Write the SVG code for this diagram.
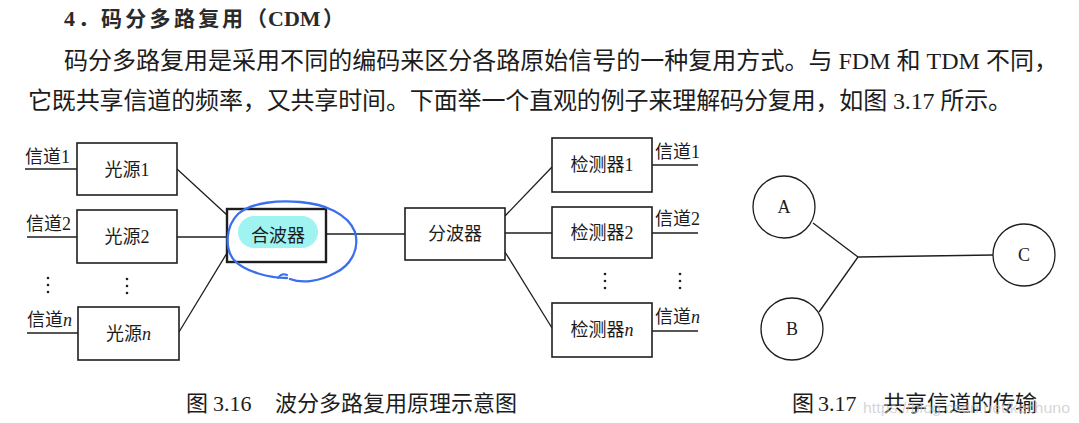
<svg xmlns="http://www.w3.org/2000/svg" width="1079" height="423" viewBox="0 0 1079 423">
<style>
.bg{fill:#ffffff}
.para{font-family:"Liberation Serif","Noto Sans CJK SC",serif;font-size:24px;fill:#1c1c1c}
.title{font-family:"Noto Sans CJK SC",sans-serif;font-size:21px;font-weight:bold;fill:#2a2a2a}
.lbl{font-family:"Liberation Serif","Noto Sans CJK SC",serif;font-size:18px;fill:#1c1c1c}
.ctr{text-anchor:middle}
.box{fill:#ffffff;stroke:#1e1e1e;stroke-width:1.6}
.boxb{fill:#ffffff;stroke:#1e1e1e;stroke-width:2.4}
.ln{fill:none;stroke:#1e1e1e;stroke-width:1.3}
.circ{fill:#ffffff;stroke:#1e1e1e;stroke-width:1.3}
.cap{font-family:"Liberation Serif","Noto Sans CJK SC",serif;font-size:22px;fill:#1c1c1c}
.dot{fill:#1e1e1e}
.it{font-style:italic}
.wm{font-family:"Liberation Sans",sans-serif;font-size:15px;fill:#c4c4c4;fill-opacity:0.7}
</style>
<rect class="bg" x="0" y="0" width="1079" height="423"/>

<g id="header">
<text class="title" y="26"><tspan x="64" font-family="Liberation Serif,serif" font-size="22">4</tspan><tspan x="78">．</tspan><tspan x="101" letter-spacing="3.3">码分多路复</tspan><tspan x="222">用</tspan><tspan x="246">（</tspan><tspan x="268" font-family="Liberation Serif,serif" font-size="22">CDM</tspan><tspan x="323">）</tspan></text>
<text class="para" x="64" y="69" textLength="994" lengthAdjust="spacing">码分多路复用是采用不同的编码来区分各路原始信号的一种复用方式。与 FDM 和 TDM 不同，</text>
<text class="para" x="28" y="109" textLength="984" lengthAdjust="spacing">它既共享信道的频率，又共享时间。下面举一个直观的例子来理解码分复用，如图 3.17 所示。</text>
</g>

<g id="connectors">
<line class="ln" x1="25" y1="169" x2="77" y2="169"/>
<line class="ln" x1="27" y1="237" x2="77" y2="237"/>
<line class="ln" x1="27" y1="333" x2="78" y2="333"/>
<line class="ln" x1="177" y1="169" x2="227" y2="215"/>
<line class="ln" x1="177" y1="237" x2="227" y2="237"/>
<line class="ln" x1="179" y1="332" x2="227" y2="253"/>
<line class="ln" x1="326" y1="234" x2="405" y2="234"/>
<line class="ln" x1="505" y1="216" x2="552" y2="167"/>
<line class="ln" x1="505" y1="233" x2="552" y2="233"/>
<line class="ln" x1="505" y1="252" x2="552" y2="328"/>
<line class="ln" x1="652" y1="165" x2="698" y2="165"/>
<line class="ln" x1="652" y1="233" x2="698" y2="233"/>
<line class="ln" x1="652" y1="331" x2="698" y2="331"/>
<line class="ln" x1="813" y1="223" x2="858" y2="257"/>
<line class="ln" x1="819" y1="312" x2="858" y2="257"/>
<line class="ln" x1="858" y1="257" x2="993" y2="255"/>
</g>

<g id="ch-left-1"><text class="lbl" x="25" y="163">信道1</text></g>
<g id="ch-left-2"><text class="lbl" x="26" y="230">信道2</text></g>
<g id="ch-left-n"><text class="lbl" x="27" y="326">信道<tspan class="it">n</tspan></text></g>

<g id="src1"><rect class="box" x="77" y="143" width="100" height="52"/><text class="lbl ctr" x="127" y="176">光源1</text></g>
<g id="src2"><rect class="box" x="77" y="210" width="100" height="53"/><text class="lbl ctr" x="127" y="243">光源2</text></g>
<g id="srcn"><rect class="box" x="78" y="307" width="101" height="53"/><text class="lbl ctr" x="128.5" y="340">光源<tspan class="it">n</tspan></text></g>

<g id="dots-left">
<circle class="dot" cx="48" cy="278" r="1.3"/><circle class="dot" cx="48" cy="285" r="1.3"/><circle class="dot" cx="48" cy="292" r="1.3"/>
<circle class="dot" cx="127" cy="279" r="1.3"/><circle class="dot" cx="127" cy="286" r="1.3"/><circle class="dot" cx="127" cy="293" r="1.3"/>
</g>

<g id="combiner">
<rect class="boxb" x="227" y="209" width="99" height="53"/>
<rect x="238" y="216" width="80" height="32" rx="16" fill="#9ff4f2"/>
<text class="lbl ctr" x="278" y="242">合波器</text>
</g>

<g id="splitter"><rect class="box" x="405" y="208" width="100" height="52"/><text class="lbl ctr" x="455" y="240">分波器</text></g>

<g id="det1"><rect class="box" x="552" y="138" width="100" height="54"/><text class="lbl ctr" x="602" y="171">检测器1</text></g>
<g id="det2"><rect class="box" x="552" y="207" width="100" height="51"/><text class="lbl ctr" x="602" y="239">检测器2</text></g>
<g id="detn"><rect class="box" x="552" y="303" width="100" height="54"/><text class="lbl ctr" x="602" y="336">检测器<tspan class="it">n</tspan></text></g>

<g id="ch-right-1"><text class="lbl" x="655" y="158">信道1</text></g>
<g id="ch-right-2"><text class="lbl" x="655" y="225">信道2</text></g>
<g id="ch-right-n"><text class="lbl" x="655" y="323">信道<tspan class="it">n</tspan></text></g>

<g id="dots-right">
<circle class="dot" cx="605" cy="274" r="1.3"/><circle class="dot" cx="605" cy="281" r="1.3"/><circle class="dot" cx="605" cy="288" r="1.3"/>
<circle class="dot" cx="680" cy="274" r="1.3"/><circle class="dot" cx="680" cy="281" r="1.3"/><circle class="dot" cx="680" cy="288" r="1.3"/>
</g>

<g id="blue-mark">
<path d="M 287,278 C 270,278 245,272 234,260 C 224,248 226,226 238,214 C 252,202 280,200 300,202 C 325,204 348,214 355,232 C 360,250 350,266 335,273 C 320,281 303,284 290,279" fill="none" stroke="#3a6ff0" stroke-width="2.3" stroke-linecap="round"/>
<path d="M 278,278 C 280,275 283,273 287,275" fill="none" stroke="#3a6ff0" stroke-width="2" stroke-linecap="round"/>
</g>

<g id="node-A"><circle class="circ" cx="784" cy="207" r="31"/><text class="lbl ctr" x="784" y="213">A</text></g>
<g id="node-B"><circle class="circ" cx="792" cy="329" r="31"/><text class="lbl ctr" x="792" y="335">B</text></g>
<g id="node-C"><circle class="circ" cx="1024" cy="255" r="31"/><text class="lbl ctr" x="1024" y="261">C</text></g>

<g id="captions">
<text class="cap" y="411"><tspan x="186">图</tspan><tspan x="213">3.16</tspan><tspan x="275">波分多路复用原理示意图</tspan></text>
<text class="cap" y="411"><tspan x="792">图</tspan><tspan x="818">3.17</tspan><tspan x="883">共享信道的传输</tspan></text>
<text class="wm" x="863" y="413" textLength="207" lengthAdjust="spacingAndGlyphs">https://blog.csdn.net/kechuno</text>
</g>
</svg>
